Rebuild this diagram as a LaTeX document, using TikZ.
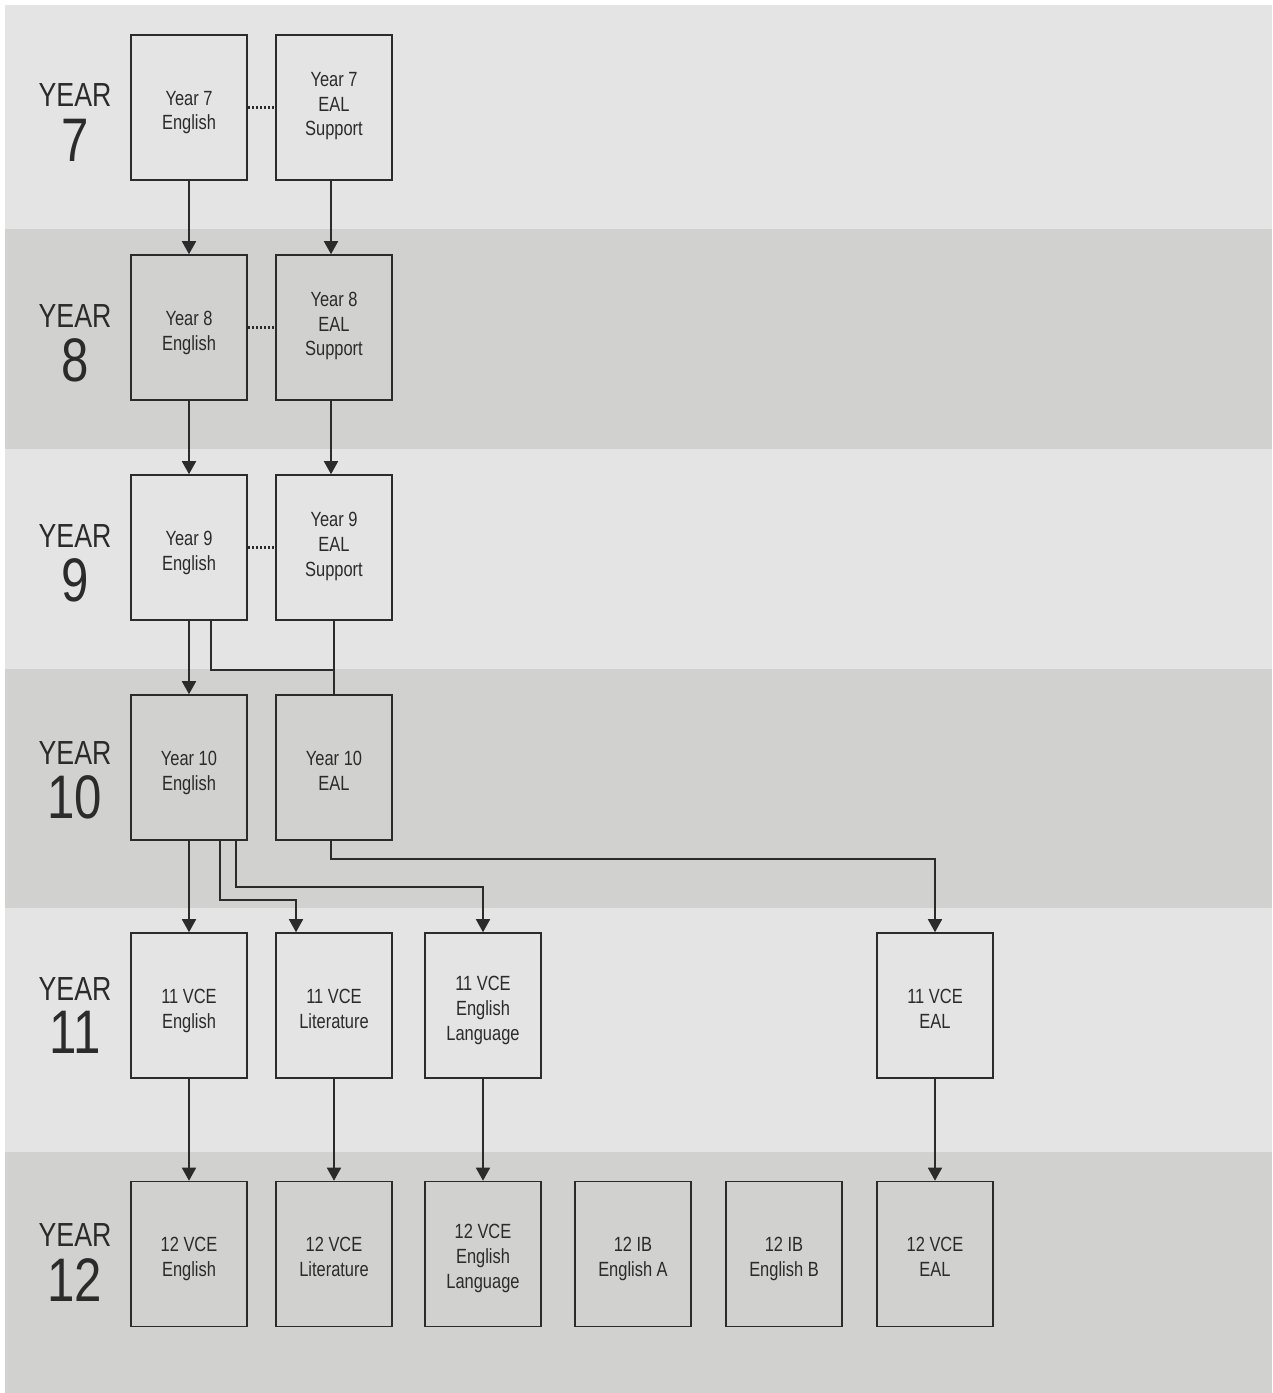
\documentclass[tikz,border=0pt]{standalone}
\usepackage{fontspec}
\setmainfont{Liberation Sans}[FakeStretch=0.8]
\usetikzlibrary{arrows.meta, positioning}
\definecolor{bandlight}{HTML}{E3E4E3}
\definecolor{banddark}{HTML}{D1D1D0}
\definecolor{ink}{HTML}{2B2B2B}
\begin{document}
\begin{tikzpicture}[x=0.02cm,y=-0.02cm,
    course/.style={draw=ink, line width=0.9pt, minimum width=2.32cm,
      minimum height=2.9cm, align=center, text=ink,
      text height=#1, text depth=0pt,
      font=\fontsize{11.7}{14.2}\selectfont},
    course/.default=0.9cm,
    yr/.style={text=ink, inner sep=0pt, font=\fontsize{19}{19}\selectfont},
    yrnum/.style={text=ink, inner sep=0pt, font=\fontsize{35}{35}\selectfont},
    arr/.style={draw=ink, line width=0.9pt, -{Triangle[width=0.28cm,length=0.26cm]}},
    link/.style={draw=ink, line width=0.9pt},
    dots/.style={draw=ink, line width=1.3pt, dash pattern=on 1.2pt off 1.1pt}]
  \useasboundingbox[fill=white] (0,0) rectangle (1272,1393);
  % bands
  \fill[bandlight] (5,5) rectangle (1272,229);
  \fill[banddark] (5,229) rectangle (1272,449);
  \fill[bandlight] (5,449) rectangle (1272,669);
  \fill[banddark] (5,669) rectangle (1272,908);
  \fill[bandlight] (5,908) rectangle (1272,1152);
  \fill[banddark] (5,1152) rectangle (1272,1393);

  % year labels
  \node[yr] (y7) at (75,95) {YEAR};
  \node[yrnum] (n7) at (75,140) {7};
  \node[yr] (y8) at (75,316) {YEAR};
  \node[yrnum] (n8) at (75,360) {8};
  \node[yr] (y9) at (75,536) {YEAR};
  \node[yrnum] (n9) at (75,580) {9};
  \node[yr] (y10) at (75,753) {YEAR};
  \node[yrnum] (n10) at (75,797) {10};
  \node[yr] (y11) at (75,989) {YEAR};
  \node[yrnum] (n11) at (75,1032) {11};
  \node[yr] (y12) at (75,1235) {YEAR};
  \node[yrnum] (n12) at (75,1280) {12};

  % courses
  \node[course] (e7) at (189,107.5) {Year 7\\English};
  \node[course=1.14cm] (s7) at (334,107.5) {Year 7\\EAL\\Support};
  \node[course] (e8) at (189,327.5) {Year 8\\English};
  \node[course=1.14cm] (s8) at (334,327.5) {Year 8\\EAL\\Support};
  \node[course] (e9) at (189,547.5) {Year 9\\English};
  \node[course=1.14cm] (s9) at (334,547.5) {Year 9\\EAL\\Support};
  \node[course] (e10) at (189,767.5) {Year 10\\English};
  \node[course] (a10) at (334,767.5) {Year 10\\EAL};
  \node[course] (e11) at (189,1005.5) {11 VCE\\English};
  \node[course] (l11) at (334,1005.5) {11 VCE\\Literature};
  \node[course=1.38cm] (g11) at (483,1005.5) {11 VCE\\English\\Language};
  \node[course] (a11) at (935,1005.5) {11 VCE\\EAL};
  \node[course] (e12) at (189,1254) {12 VCE\\English};
  \node[course] (l12) at (334,1254) {12 VCE\\Literature};
  \node[course=1.38cm] (g12) at (483,1254) {12 VCE\\English\\Language};
  \node[course] (ia12) at (633,1254) {12 IB\\English A};
  \node[course] (ib12) at (784,1254) {12 IB\\English B};
  \node[course] (a12) at (935,1254) {12 VCE\\EAL};

  % dotted pairs
  \draw[dots] (e7) -- (s7);
  \draw[dots] (e8) -- (s8);
  \draw[dots] (e9) -- (s9);

  % pathways
  \draw[arr] (e7) -- (e8);
  \draw[arr] ([xshift=-0.06cm]s7.south) -- ([xshift=-0.06cm]s8.north);
  \draw[arr] (e8) -- (e9);
  \draw[arr] ([xshift=-0.06cm]s8.south) -- ([xshift=-0.06cm]s9.north);
  \draw[arr] (e9) -- (e10);
  \draw[link] (s9) -- (a10);
  \draw[link] ([xshift=0.44cm]e9.south) -- ++(0,49) -| (a10.north);
  \draw[arr] (e10) -- (e11);
  \draw[arr] ([xshift=0.62cm]e10.south) -- ++(0,59) -| ([xshift=-0.76cm]l11.north);
  \draw[arr] ([xshift=0.94cm]e10.south) -- ++(0,46) -| (g11.north);
  \draw[arr] ([xshift=-0.06cm]a10.south) -- ++(0,18) -| (a11.north);
  \draw[arr] (e11) -- (e12);
  \draw[arr] (l11) -- (l12);
  \draw[arr] (g11) -- (g12);
  \draw[arr] (a11) -- (a12);
\end{tikzpicture}
\end{document}
